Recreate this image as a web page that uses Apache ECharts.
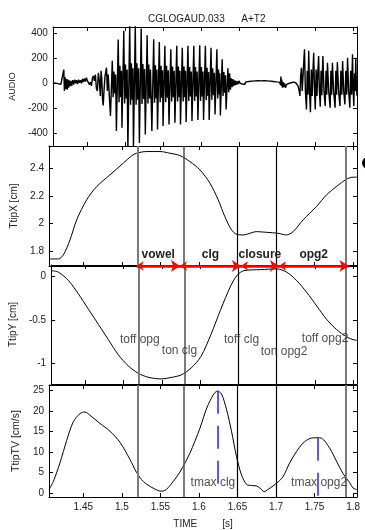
<!DOCTYPE html>
<html><head><meta charset="utf-8">
<script src="https://cdn.jsdelivr.net/npm/echarts@6/dist/echarts.min.js"></script>
<style>html,body{margin:0;padding:0;background:#fff}#c{width:365px;height:530px}</style>
</head><body><div id="c"></div>
<script>
// ---------- data ----------
const timeTicks = [1.45, 1.5, 1.55, 1.6, 1.65, 1.7, 1.75, 1.8];
const audioTicks = [-400, -200, 0, 200, 400];
const tipXTicks = [1.8, 2, 2.2, 2.4];
const tipYTicks = [-1, -0.5, 0];
const tvTicks = [0, 5, 10, 15, 20, 25];

const audio = [
[1.4055,5],[1.4081,-5],[1.4107,0],[1.4133,-12],[1.4159,-8],[1.4185,-15],[1.4198,110],[1.4206,-60],[1.4215,50],[1.4224,-45],
[1.4233,35],[1.4242,-50],[1.4251,30],[1.4260,-35],[1.4269,25],[1.4278,-25],[1.4289,20],[1.4302,-20],[1.4315,25],[1.4328,-10],
[1.4341,30],[1.4354,0],[1.4366,25],[1.4379,-5],[1.4392,30],[1.4405,5],[1.4418,25],[1.4431,0],[1.4444,35],[1.4457,10],
[1.4470,40],[1.4483,15],[1.4496,45],[1.4509,20],[1.4522,30],[1.4535,-10],[1.4548,10],[1.4561,-20],[1.4574,40],[1.4587,60],
[1.4600,20],[1.4613,70],[1.4626,-40],[1.4639,-60],[1.4652,85],[1.4665,20],[1.4678,-100],[1.4687,100],[1.4697,40],[1.4707,-130],
[1.4716,-176],[1.4728,-40],[1.4740,60],[1.4759,125],[1.4770,-60],[1.4782,70],[1.4795,-90],
[1.4811,-260],[1.4835,180],[1.4846,-110],[1.4857,95],[1.4868,-80],[1.4879,70],
[1.4889,-380],[1.4913,350],[1.4924,-150],[1.4935,140],[1.4946,-110],[1.4955,100],
[1.4962,-355],[1.4986,420],[1.4997,-160],[1.5008,150],[1.5019,-120],[1.5030,110],
[1.5040,-520],[1.5064,470],[1.5075,-170],[1.5086,160],[1.5097,-130],[1.5106,120],
[1.5113,-520],[1.5137,470],[1.5148,-170],[1.5159,160],[1.5170,-130],[1.5181,120],
[1.5191,-475],[1.5215,437],[1.5226,-165],[1.5237,155],[1.5248,-125],[1.5259,115],
[1.5269,-408],[1.5293,384],[1.5304,-160],[1.5315,150],[1.5326,-120],[1.5337,110],
[1.5355,-380],[1.5379,352],[1.5390,-155],[1.5401,145],[1.5412,-120],[1.5421,110],
[1.5429,-368],[1.5453,330],[1.5464,-150],[1.5475,140],[1.5486,-115],[1.5495,105],
[1.5502,-341],[1.5526,300],[1.5537,-150],[1.5548,140],[1.5559,-115],[1.5570,105],
[1.5580,-328],[1.5604,272],[1.5615,-145],[1.5626,135],[1.5637,-110],[1.5648,100],
[1.5658,-315],[1.5682,300],[1.5693,-145],[1.5704,135],[1.5715,-110],[1.5724,100],
[1.5731,-328],[1.5755,285],[1.5766,-145],[1.5777,135],[1.5788,-110],[1.5797,100],
[1.5805,-309],[1.5829,300],[1.5840,-140],[1.5851,130],[1.5862,-105],[1.5873,95],
[1.5882,-300],[1.5906,300],[1.5917,-140],[1.5928,130],[1.5939,-105],[1.5950,95],
[1.5960,-293],[1.5984,304],[1.5995,-140],[1.6006,130],[1.6017,-105],[1.6026,95],
[1.6034,-293],[1.6058,300],[1.6069,-135],[1.6080,125],[1.6091,-100],[1.6100,90],
[1.6108,-293],[1.6132,285],[1.6143,-130],[1.6154,120],[1.6165,-95],[1.6176,85],
[1.6185,-248],[1.6209,272],[1.6220,-120],[1.6231,110],[1.6242,-90],[1.6248,80],
[1.6255,-256],[1.6279,192],[1.6290,-100],[1.6301,90],[1.6312,-75],[1.6322,65],
[1.6330,-208],[1.6354,120],[1.6365,-70],[1.6376,80],[1.6387,-50],[1.6398,40],
[1.6410,-30],[1.6420,35],[1.6430,-20],[1.6440,25],[1.6450,-15],[1.6460,20],[1.6470,-10],[1.6480,15],[1.6490,-5],[1.6500,20],
[1.6515,0],[1.6530,15],[1.6545,-5],[1.6560,10],[1.6575,-8],[1.6590,12],[1.6610,0],[1.6630,15],[1.6650,5],[1.6670,18],
[1.6690,8],[1.6710,20],[1.6730,10],[1.6750,22],[1.6770,12],[1.6790,20],[1.6810,14],[1.6830,22],[1.6850,15],[1.6870,20],
[1.6890,12],[1.6910,18],[1.6930,10],[1.6950,15],[1.6970,5],[1.6990,12],[1.7010,0],[1.7030,10],[1.7045,-10],[1.7050,55],
[1.7056,-20],[1.7062,30],[1.7070,-35],[1.7080,10],[1.7090,-30],[1.7100,0],[1.7110,-35],[1.7125,-10],[1.7140,-25],[1.7155,0],
[1.7170,-15],[1.7185,5],[1.7200,-5],[1.7215,10],[1.7230,15],[1.7245,5],[1.7260,20],[1.7275,-20],[1.7290,-60],[1.7300,-100],
[1.7310,60],[1.7320,125],[1.7330,-60],
[1.7360,272],[1.7372,-60],[1.7386,-208],[1.7396,100],[1.7406,-90],
[1.7416,260],[1.7427,-70],[1.7438,-230],[1.7450,110],[1.7461,-100],[1.7471,90],
[1.7481,245],[1.7492,-60],[1.7502,-208],[1.7513,110],[1.7524,-100],[1.7535,90],
[1.7546,218],[1.7556,-60],[1.7567,-187],[1.7578,100],[1.7588,-95],[1.7595,80],
[1.7602,218],[1.7616,-60],[1.7632,-181],[1.7643,100],[1.7653,-90],
[1.7662,165],[1.7678,-60],[1.7697,-195],[1.7707,100],[1.7717,-90],
[1.7727,165],[1.7743,-60],[1.7762,-195],[1.7772,100],[1.7782,-90],
[1.7792,170],[1.7808,-60],[1.7826,-181],[1.7838,100],[1.7850,-90],
[1.7861,178],[1.7875,-60],[1.7891,-168],[1.7903,100],[1.7915,-90],
[1.7926,205],[1.7940,-60],[1.7956,-195],[1.7967,100],[1.7979,-90],
[1.7991,232],[1.8000,-60],[1.8008,-181],[1.8018,80],[1.8026,-60],
[1.8034,205],[1.8043,-40],[1.8051,-100]
];

const tipX = [
[1.4059,1.745],[1.4176,1.745],[1.4241,1.774],[1.4327,1.882],[1.4414,2.027],[1.4543,2.171],[1.4673,2.267],[1.4846,2.352],
[1.5018,2.436],[1.5126,2.489],[1.5191,2.508],[1.5321,2.52],[1.5494,2.52],[1.5623,2.508],[1.5753,2.491],[1.5882,2.448],
[1.6012,2.388],[1.6142,2.292],[1.6250,2.171],[1.6336,2.05],[1.6422,1.955],[1.6487,1.923],[1.6574,1.918],[1.6746,1.942],
[1.6876,1.937],[1.7027,1.93],[1.7135,1.918],[1.7222,1.942],[1.7351,2.027],[1.7524,2.123],[1.7654,2.207],[1.7783,2.267],
[1.7913,2.32],[1.7999,2.335],[1.8051,2.335]
];

const tipY = [
[1.4059,0.065],[1.4154,0.046],[1.4284,-0.051],[1.4414,-0.205],[1.4543,-0.378],[1.4673,-0.552],[1.4802,-0.726],[1.4932,-0.899],
[1.5062,-1.027],[1.5191,-1.111],[1.5321,-1.157],[1.5494,-1.177],[1.5623,-1.16],[1.5753,-1.131],[1.5882,-1.053],[1.6012,-0.919],
[1.6142,-0.668],[1.6271,-0.378],[1.6401,-0.109],[1.6487,0.015],[1.6574,0.065],[1.679,0.077],[1.7006,0.085],[1.7135,0.046],
[1.7265,-0.051],[1.7394,-0.185],[1.7524,-0.34],[1.7654,-0.494],[1.7783,-0.61],[1.7913,-0.694],[1.7999,-0.726],[1.8051,-0.734]
];

const tipTV = [
[1.4059,0.92],[1.4111,2.8],[1.4198,7.4],[1.4284,12.8],[1.437,17.4],[1.4457,19.4],[1.4522,19.8],[1.4586,19.0],[1.4716,17.0],
[1.4846,15.1],[1.4975,12.4],[1.5105,8.2],[1.5191,5.0],[1.5278,2.8],[1.5407,1.15],[1.5515,0.4],[1.558,0.9],[1.5666,2.8],
[1.5753,5.1],[1.5882,9.7],[1.6012,15.8],[1.612,21.6],[1.624,24.9],[1.6293,24.2],[1.6358,20.4],[1.6422,15.1],[1.6487,8.9],
[1.6552,4.4],[1.6617,2.1],[1.6682,1.8],[1.6746,1.7],[1.679,1.2],[1.6846,0.3],[1.6898,0.9],[1.6962,1.7],[1.7027,2.7],
[1.7092,4.0],[1.7178,7.4],[1.7265,10.1],[1.7351,12.2],[1.7438,13.3],[1.7539,13.5],[1.7589,13.4],[1.7697,10.9],[1.7783,7.8],
[1.787,4.7],[1.7956,2.5],[1.7999,1.2],[1.8051,0.8]
];

const eventTimes = [1.519, 1.5754, 1.6544, 1.7037, 1.794];
const eventLabels = ['toff opg', 'ton clg', 'toff clg', 'ton opg2', 'toff opg2'];
const phaseNames = ['vowel', 'clg', 'closure', 'opg2'];
const tmaxTimes = [1.625, 1.7539];
const tmaxLabels = ['tmax clg', 'tmax opg2'];

// ---------- layout / style ----------
const FONT = "'Liberation Sans', Arial, sans-serif";
const TXT = '#222';
const X0 = 1.4055, X1 = 1.805;
const panels = [
  {top: 27,  height: 119,   min: -500,  max: 450,  ticks: audioTicks, name: 'AUDIO',        gap: 34, nameSize: 9},
  {top: 146, height: 120,   min: 1.694, max: 2.56, ticks: tipXTicks,  name: 'TtipX [cm]',   gap: 29, nameSize: 10},
  {top: 265, height: 119,   min: -1.235,max: 0.13, ticks: tipYTicks,  name: 'TtipY [cm]',   gap: 29, nameSize: 10},
  {top: 385, height: 118.5, min: -1,    max: 26.4, ticks: tvTicks,    name: 'TtipTV [cm/s]',gap: 25, nameSize: 10.5}
];

const grids = [], xAxes = [], yAxes = [];
panels.forEach((p, i) => {
  grids.push({left: 49, width: 308, top: p.top, height: p.height, show: false});
  const line = {show: true, onZero: false, lineStyle: {color: '#000', width: 1}};
  const tick = (vals) => ({show: true, inside: true, length: 4, customValues: vals, lineStyle: {color: '#000', width: 1}});
  xAxes.push({
    type: 'value', gridIndex: i, position: 'bottom', min: X0, max: X1,
    axisLine: line, axisTick: tick(timeTicks), splitLine: {show: false},
    axisLabel: i === 3 ? {show: true, customValues: timeTicks, margin: 5, color: TXT, fontFamily: FONT, fontSize: 10} : {show: false},
    name: i === 3 ? 'TIME         [s]' : '', nameLocation: 'middle', nameGap: 22,
    nameTextStyle: {color: TXT, fontFamily: FONT, fontSize: 10}
  });
  xAxes.push({
    type: 'value', gridIndex: i, position: 'top', min: X0, max: X1,
    axisLine: line, axisTick: tick(timeTicks), splitLine: {show: false}, axisLabel: {show: false}
  });
  yAxes.push({
    type: 'value', gridIndex: i, position: 'left', min: p.min, max: p.max,
    axisLine: line, axisTick: tick(p.ticks), splitLine: {show: false},
    axisLabel: {show: true, customValues: p.ticks, margin: 5, color: TXT, fontFamily: FONT, fontSize: 10},
    name: p.name, nameLocation: 'middle', nameGap: p.gap,
    nameTextStyle: {color: TXT, fontFamily: FONT, fontSize: p.nameSize}
  });
  yAxes.push({
    type: 'value', gridIndex: i, position: 'right', min: p.min, max: p.max,
    axisLine: line, axisTick: tick(p.ticks), splitLine: {show: false}, axisLabel: {show: false}
  });
});

const eventStyles = [
  {color: '#7a7a7a', width: 2},
  {color: '#505050', width: 1.5},
  {color: '#000', width: 1.2},
  {color: '#000', width: 1.2},
  {color: '#7a7a7a', width: 2}
];
const eventMarkLine = {
  silent: true, symbol: ['none', 'none'], label: {show: false}, animation: false,
  data: eventTimes.map((t, k) => ({xAxis: t, lineStyle: Object.assign({type: 'solid'}, eventStyles[k])}))
};

function curve(data, i, extra) {
  return Object.assign({
    type: 'line', data: data, xAxisIndex: 2 * i, yAxisIndex: 2 * i,
    showSymbol: false, symbol: 'none', lineStyle: {color: '#000', width: 1}, animation: false, z: 3
  }, extra || {});
}

const series = [
  curve(audio, 0, {lineStyle: {color: '#000', width: 1.4}, sampling: null}),
  curve(tipX, 1, {smooth: 0.3, markLine: eventMarkLine}),
  curve(tipY, 2, {smooth: 0.3, markLine: eventMarkLine}),
  curve(tipTV, 3, {smooth: 0.3, markLine: eventMarkLine}),
  // phase arrows
  {
    type: 'lines', coordinateSystem: 'cartesian2d', xAxisIndex: 2, yAxisIndex: 2, clip: false, z: 6,
    symbol: ['arrow', 'arrow'], symbolSize: [7, 9], animation: false,
    lineStyle: {color: '#ff0000', width: 2.5, opacity: 1},
    label: {show: true, position: 'middle', distance: 5, color: TXT, fontFamily: FONT, fontSize: 12, fontWeight: 'bold',
      formatter: (p) => p.name},
    data: phaseNames.map((n, k) => ({name: n, coords: [[eventTimes[k], panels[1].min], [eventTimes[k + 1], panels[1].min]]}))
  },
  // event labels in TtipY panel
  {
    type: 'scatter', xAxisIndex: 4, yAxisIndex: 4, symbolSize: 0, z: 7, animation: false, silent: true,
    label: {show: true, position: 'inside', color: TXT, fontFamily: FONT, fontSize: 12, formatter: (p) => p.name},
    data: [[1.5213, -0.726], [1.5732, -0.85], [1.6542, -0.726], [1.7098, -0.86], [1.7633, -0.714]]
      .map((c, k) => ({name: eventLabels[k], value: c}))
  },
  // tmax lines
  {
    type: 'lines', coordinateSystem: 'cartesian2d', xAxisIndex: 6, yAxisIndex: 6, clip: false, z: 5,
    symbol: ['none', 'none'], animation: false,
    lineStyle: {color: '#3030ff', width: 1.6, type: [23, 12], opacity: 1},
    data: [
      {coords: [[tmaxTimes[0], 25], [tmaxTimes[0], 1.4]]},
      {coords: [[tmaxTimes[1], 13.5], [tmaxTimes[1], -1]]}
    ]
  },
  {
    type: 'scatter', xAxisIndex: 6, yAxisIndex: 6, symbolSize: 0, z: 7, animation: false, silent: true,
    label: {show: true, position: 'inside', color: TXT, fontFamily: FONT, fontSize: 12, formatter: (p) => p.name},
    data: [[1.6181, 2.45], [1.7558, 2.45]].map((c, k) => ({name: tmaxLabels[k], value: c}))
  }
];

const chart = echarts.init(document.getElementById('c'), null, {renderer: 'canvas'});
chart.setOption({
  animation: false,
  backgroundColor: '#fff',
  title: {text: 'CGLOGAUD.033      A+T2', left: 143, top: 9,
    textStyle: {color: TXT, fontFamily: FONT, fontSize: 10, fontWeight: 'normal'}},
  grid: grids, xAxis: xAxes, yAxis: yAxes, series: series,
  graphic: [{type: 'circle', shape: {cx: 368, cy: 163, r: 6}, style: {fill: '#000'}}]
});
</script></body></html>
